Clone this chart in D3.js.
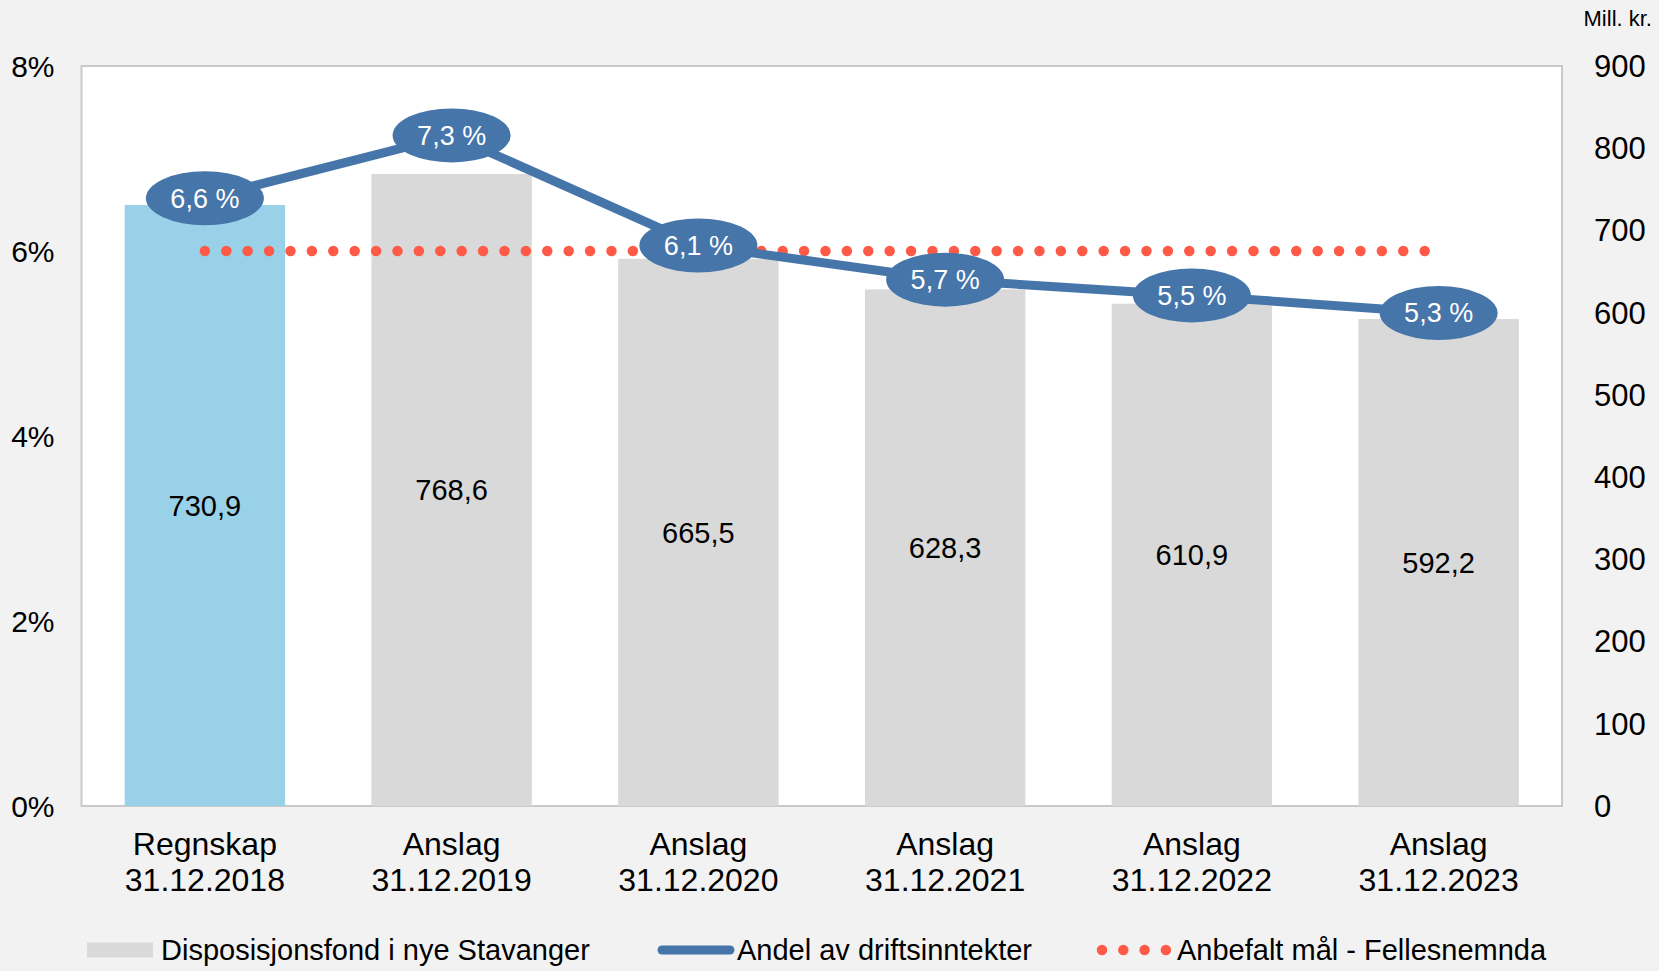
<!DOCTYPE html>
<html>
<head>
<meta charset="utf-8">
<script src="https://cdn.jsdelivr.net/npm/d3@7"></script>
<style>
  html, body { margin: 0; padding: 0; background: #f2f2f2; }
  svg { display: block; font-family: "Liberation Sans", Arial, sans-serif; }
</style>
</head>
<body>
<div id="chart"></div>
<script>
// categories, two lines each
var categoryTop = ["Regnskap", "Anslag", "Anslag", "Anslag", "Anslag", "Anslag"];
var categoryBottom = ["31.12.2018", "31.12.2019", "31.12.2020", "31.12.2021", "31.12.2022", "31.12.2023"];

// Disposisjonsfond, mill. kr (right axis)
var fondValues = [730.9, 768.6, 665.5, 628.3, 610.9, 592.2];
// Andel av driftsinntekter, percent (left axis)
var andelValues = [6.57, 7.25, 6.06, 5.69, 5.52, 5.33];
// Anbefalt mål, percent
var targetValue = 6;

var leftTicks = [0, 2, 4, 6, 8];
var rightTicks = [0, 100, 200, 300, 400, 500, 600, 700, 800, 900];

var width = 1659, height = 971;
var margin = {top: 66, right: 97, bottom: 165, left: 81.5};
var plotW = width - margin.left - margin.right,
    plotH = height - margin.top - margin.bottom;

var svg = d3.select("#chart").append("svg")
    .attr("width", width)
    .attr("height", height);

svg.append("rect")
    .attr("width", width).attr("height", height)
    .attr("fill", "#f2f2f2");

var g = svg.append("g")
    .attr("transform", "translate(" + margin.left + "," + margin.top + ")");

var x = d3.scaleBand()
    .domain(d3.range(categoryTop.length))
    .range([0, plotW])
    .paddingInner(0.35)
    .paddingOuter(0.175);

var yLeft = d3.scaleLinear().domain([0, 8]).range([plotH, 0]);
var yRight = d3.scaleLinear().domain([0, 900]).range([plotH, 0]);

var fmt = function(v, d) { return v.toFixed(d).replace(".", ","); };

// plot area
g.append("rect")
    .attr("width", plotW).attr("height", plotH)
    .attr("fill", "#ffffff")
    .attr("stroke", "#c9c9c9")
    .attr("stroke-width", 2);

// bars
g.selectAll(".bar")
    .data(fondValues)
    .enter().append("rect")
    .attr("class", "bar")
    .attr("x", function(d, i) { return x(i); })
    .attr("width", x.bandwidth())
    .attr("y", function(d) { return yRight(d); })
    .attr("height", function(d) { return plotH - yRight(d); })
    .attr("fill", function(d, i) { return i === 0 ? "#99d1e8" : "#d9d9d9"; });

// bar values
g.selectAll(".barLabel")
    .data(fondValues)
    .enter().append("text")
    .attr("x", function(d, i) { return x(i) + x.bandwidth() / 2; })
    .attr("y", function(d) { return (yRight(d) + plotH) / 2; })
    .attr("dy", "0.35em")
    .attr("text-anchor", "middle")
    .attr("font-size", 29)
    .attr("fill", "#000")
    .text(function(d) { return fmt(d, 1); });

// target dotted line
var cx = function(i) { return x(i) + x.bandwidth() / 2; };
g.append("line")
    .attr("x1", cx(0))
    .attr("x2", cx(categoryTop.length - 1))
    .attr("y1", yLeft(targetValue))
    .attr("y2", yLeft(targetValue))
    .attr("stroke", "#ff5a47")
    .attr("stroke-width", 10.5)
    .attr("stroke-linecap", "round")
    .attr("stroke-dasharray", "0 21.4");

// share line
var line = d3.line()
    .x(function(d, i) { return cx(i); })
    .y(function(d) { return yLeft(d); });

g.append("path")
    .datum(andelValues)
    .attr("d", line)
    .attr("fill", "none")
    .attr("stroke", "#4575a9")
    .attr("stroke-width", 9);

var bubble = g.selectAll(".bubble")
    .data(andelValues)
    .enter().append("g")
    .attr("transform", function(d, i) { return "translate(" + cx(i) + "," + yLeft(d) + ")"; });

bubble.append("ellipse")
    .attr("rx", 59).attr("ry", 27)
    .attr("fill", "#4575a9");

bubble.append("text")
    .attr("dy", "0.35em")
    .attr("text-anchor", "middle")
    .attr("font-size", 27)
    .attr("fill", "#fff")
    .text(function(d) { return fmt(d, 1) + " %"; });

// left axis labels
g.selectAll(".leftTick")
    .data(leftTicks)
    .enter().append("text")
    .attr("x", -27)
    .attr("y", function(d) { return yLeft(d); })
    .attr("dy", "0.35em")
    .attr("text-anchor", "end")
    .attr("font-size", 30)
    .text(function(d) { return d + "%"; });

// right axis labels
g.selectAll(".rightTick")
    .data(rightTicks)
    .enter().append("text")
    .attr("x", plotW + 32)
    .attr("y", function(d) { return yRight(d); })
    .attr("dy", "0.35em")
    .attr("text-anchor", "start")
    .attr("font-size", 31)
    .text(function(d) { return d; });

svg.append("text")
    .attr("x", 1652)
    .attr("y", 18)
    .attr("dy", "0.35em")
    .attr("text-anchor", "end")
    .attr("font-size", 22)
    .text("Mill. kr.");

// category labels
var cat = g.selectAll(".cat")
    .data(categoryTop)
    .enter().append("text")
    .attr("text-anchor", "middle")
    .attr("font-size", 32);
cat.append("tspan")
    .attr("x", function(d, i) { return cx(i); })
    .attr("y", plotH + 38)
    .attr("dy", "0.35em")
    .text(function(d) { return d; });
cat.append("tspan")
    .attr("x", function(d, i) { return cx(i); })
    .attr("y", plotH + 74)
    .attr("dy", "0.35em")
    .text(function(d, i) { return categoryBottom[i]; });

// legend
var legendY = 950;
var legend = svg.append("g");
legend.append("rect")
    .attr("x", 87).attr("y", legendY - 7.5)
    .attr("width", 66).attr("height", 15)
    .attr("fill", "#d9d9d9");
legend.append("text")
    .attr("x", 161).attr("y", legendY).attr("dy", "0.35em")
    .attr("font-size", 29)
    .text("Disposisjonsfond i nye Stavanger");

legend.append("line")
    .attr("x1", 662).attr("x2", 730)
    .attr("y1", legendY).attr("y2", legendY)
    .attr("stroke", "#4575a9")
    .attr("stroke-width", 9)
    .attr("stroke-linecap", "round");
legend.append("text")
    .attr("x", 737).attr("y", legendY).attr("dy", "0.35em")
    .attr("font-size", 29)
    .text("Andel av driftsinntekter");

legend.append("line")
    .attr("x1", 1102).attr("x2", 1166)
    .attr("y1", legendY).attr("y2", legendY)
    .attr("stroke", "#ff5a47")
    .attr("stroke-width", 10.5)
    .attr("stroke-linecap", "round")
    .attr("stroke-dasharray", "0 21.3");
legend.append("text")
    .attr("x", 1177).attr("y", legendY).attr("dy", "0.35em")
    .attr("font-size", 29)
    .text("Anbefalt mål - Fellesnemnda");
</script>
</body>
</html>
